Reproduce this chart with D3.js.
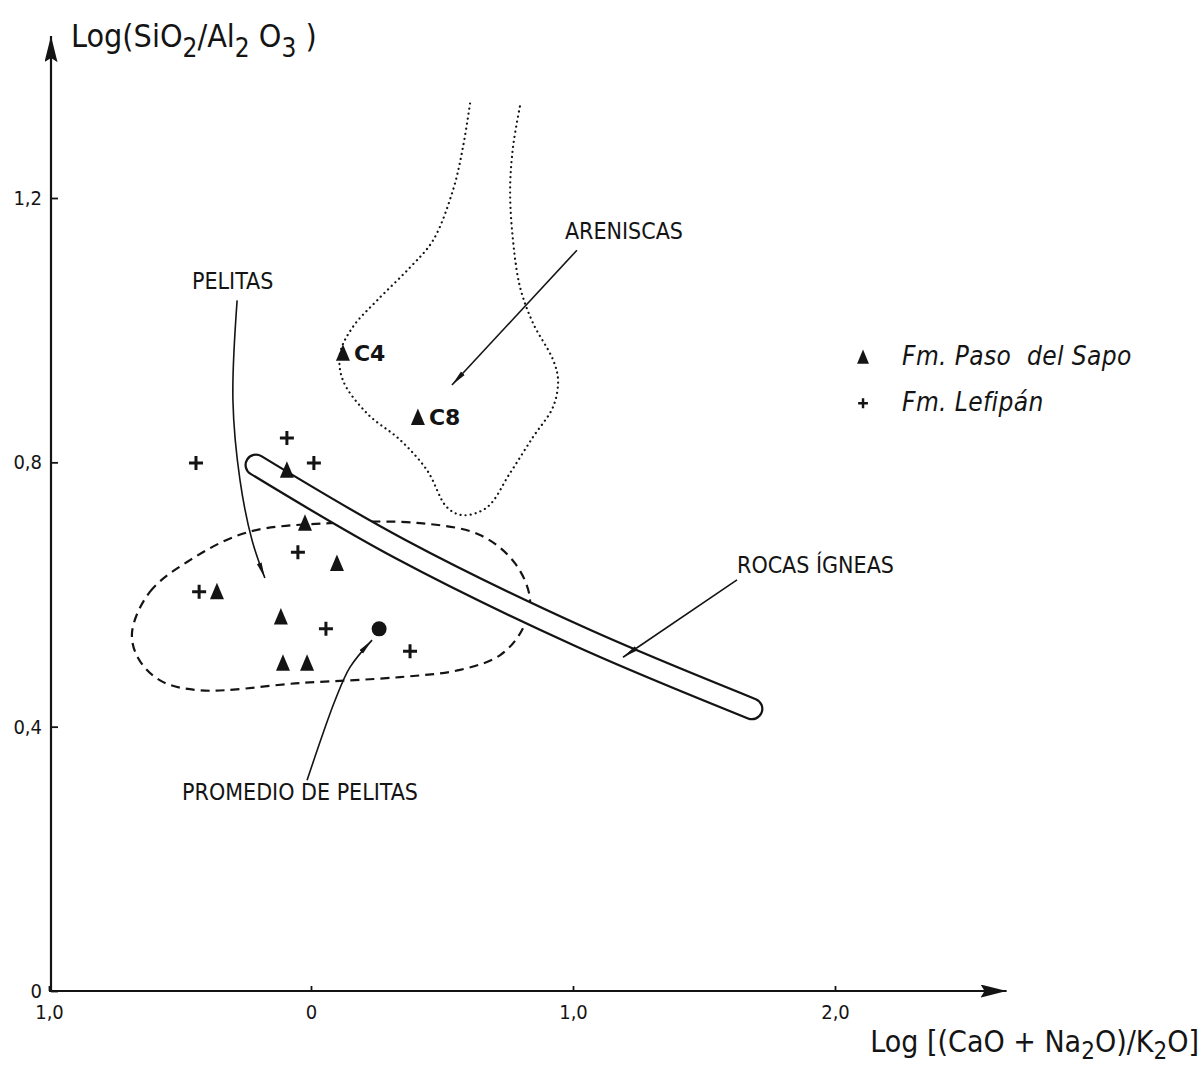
<!DOCTYPE html>
<html>
<head>
<meta charset="utf-8">
<script src="https://cdn.jsdelivr.net/npm/d3@7.9.0/dist/d3.min.js"></script>
<style>
  body { margin: 0; background: #fff; }
  svg { display: block; font-family: "DejaVu Sans Condensed", "DejaVu Sans", sans-serif; }
</style>
</head>
<body>
<svg id="chart" width="1203" height="1066"></svg>
<script>
// Axis ticks
const xTicks = [-1, 0, 1, 2];
const xTickLabels = ["1,0", "0", "1,0", "2,0"];
const yTicks = [0, 0.4, 0.8, 1.2];
const yTickLabels = ["0", "0,4", "0,8", "1,2"];
const xAxisEnd = 2.655;
const yAxisTop = 1.445;

// Fm. Paso del Sapo (triangles)
const pasoX = [0.122, 0.408, -0.092, -0.023, 0.099, -0.359, -0.115, -0.107, -0.015];
const pasoY = [0.965, 0.868, 0.788, 0.708, 0.647, 0.604, 0.566, 0.496, 0.496];
const pasoNames = ["C4", "C8", "", "", "", "", "", "", ""];

// Fm. Lefipán (crosses)
const lefX = [-0.092, -0.439, 0.011, -0.050, -0.427, 0.057, 0.378];
const lefY = [0.837, 0.799, 0.799, 0.664, 0.604, 0.548, 0.514];

// Promedio de pelitas
const promX = [0.260];
const promY = [0.548];

// Field outlines
const areniscasX = [0.607, 0.580, 0.542, 0.466, 0.378, 0.252, 0.160, 0.111, 0.122, 0.214, 0.340, 0.443, 0.519, 0.580,
  0.672, 0.760, 0.847, 0.924, 0.943, 0.924, 0.847, 0.798, 0.771, 0.760, 0.771, 0.798];
const areniscasY = [1.343, 1.277, 1.212, 1.136, 1.095, 1.045, 1.005, 0.965, 0.924, 0.874, 0.834, 0.788, 0.732, 0.720,
  0.732, 0.784, 0.838, 0.884, 0.924, 0.955, 1.011, 1.065, 1.136, 1.212, 1.277, 1.340];

const pelitasX = [-0.683, -0.615, -0.462, -0.244, 0.073, 0.416, 0.645, 0.779, 0.836, 0.805, 0.721, 0.569, 0.340, -0.042, -0.424, -0.576, -0.660];
const pelitasY = [0.543, 0.604, 0.652, 0.694, 0.708, 0.708, 0.690, 0.647, 0.592, 0.546, 0.508, 0.486, 0.475, 0.466, 0.455, 0.470, 0.504];

const igneasX = [-0.210, 0.340, 1.027, 1.683];
const igneasY = [0.796, 0.669, 0.536, 0.427];

// Annotation arrows
const arrowPelitas = { x: [-0.282, -0.298, -0.271, -0.225, -0.176], y: [1.045, 0.894, 0.773, 0.682, 0.625] };
const arrowArenis = { x: [1.015, 0.538], y: [1.121, 0.917] };
const arrowRocas = { x: [1.626, 1.191], y: [0.622, 0.505] };
const arrowProm = { x: [-0.015, 0.046, 0.092, 0.149, 0.233], y: [0.319, 0.390, 0.440, 0.490, 0.531] };

// Field labels
const fieldLabels = ["ARENISCAS", "PELITAS", "ROCAS ÍGNEAS", "PROMEDIO DE PELITAS"];
const fieldLabelX = [0.969, -0.454, 1.626, -0.492];
const fieldLabelY = [1.138, 1.062, 0.632, 0.289];

const legendNames = ["Fm. Paso del Sapo", "Fm. Lefipán"];

const svg = d3.select("#chart");
const ink = "#141414";

const x = d3.scaleLinear().domain([-1, 2]).range([49, 835]);
const y = d3.scaleLinear().domain([0, 1.2]).range([991, 198]);

const zip = (xs, ys) => xs.map((v, i) => [v, ys[i]]);

// arrow heads
const defs = svg.append("defs");
defs.append("marker")
  .attr("id", "head")
  .attr("viewBox", "0 0 16 6")
  .attr("refX", 16).attr("refY", 3)
  .attr("markerWidth", 16).attr("markerHeight", 6)
  .attr("markerUnits", "userSpaceOnUse")
  .attr("orient", "auto")
  .append("path").attr("d", "M0,0.5 L16,3 L0,5.5 Z").attr("fill", ink);

const line = d3.line().x(d => x(d[0])).y(d => y(d[1]));

// Areniscas field (dotted, open at top)
svg.append("path")
  .attr("d", line.curve(d3.curveCatmullRom)(zip(areniscasX, areniscasY)))
  .attr("fill", "none")
  .attr("stroke", ink)
  .attr("stroke-width", 2.2)
  .attr("stroke-linecap", "round")
  .attr("stroke-dasharray", "0.1,5");

// Pelitas field (dashed, closed)
svg.append("path")
  .attr("d", line.curve(d3.curveCatmullRomClosed)(zip(pelitasX, pelitasY)))
  .attr("fill", "none")
  .attr("stroke", ink)
  .attr("stroke-width", 2.2)
  .attr("stroke-dasharray", "9,6");

// Rocas ígneas field (elongated capsule)
const igneasPath = line.curve(d3.curveCatmullRom)(zip(igneasX, igneasY));
svg.append("path")
  .attr("d", igneasPath)
  .attr("fill", "none")
  .attr("stroke", ink)
  .attr("stroke-width", 23)
  .attr("stroke-linecap", "round");
svg.append("path")
  .attr("d", igneasPath)
  .attr("fill", "none")
  .attr("stroke", "#fff")
  .attr("stroke-width", 18.5)
  .attr("stroke-linecap", "round");

// Annotation arrows
[arrowPelitas, arrowArenis, arrowRocas, arrowProm].forEach(a => {
  svg.append("path")
    .attr("d", line.curve(d3.curveCatmullRom)(zip(a.x, a.y)))
    .attr("fill", "none")
    .attr("stroke", ink)
    .attr("stroke-width", 1.6)
    .attr("marker-end", "url(#head)");
});

// Field labels
svg.selectAll("text.field")
  .data(fieldLabels)
  .join("text")
  .attr("class", "field")
  .attr("x", (d, i) => x(fieldLabelX[i]))
  .attr("y", (d, i) => y(fieldLabelY[i]))
  .attr("font-size", 23)
  .attr("fill", ink)
  .text(d => d);

// Axes
const xAxis = d3.axisBottom(x)
  .tickValues(xTicks)
  .tickFormat((d, i) => xTickLabels[i])
  .tickSize(-5)
  .tickPadding(11);
const gx = svg.append("g").attr("transform", `translate(0,${y(0)})`).call(xAxis);

const yAxis = d3.axisLeft(y)
  .tickValues(yTicks)
  .tickFormat((d, i) => yTickLabels[i])
  .tickSize(-7)
  .tickPadding(9);
const gy = svg.append("g").attr("transform", `translate(${x(-1) + 2},0)`).call(yAxis);

[gx, gy].forEach(g => {
  g.select(".domain").remove();
  g.selectAll(".tick line").attr("stroke", ink).attr("stroke-width", 1.8);
  g.selectAll(".tick text")
    .attr("fill", ink)
    .attr("font-size", 20)
    .attr("font-family", "DejaVu Sans Condensed, DejaVu Sans, sans-serif");
});
gx.selectAll(".tick text").attr("dy", "0.85em");

// axis lines with arrowheads
defs.append("marker")
  .attr("id", "axisHead")
  .attr("viewBox", "0 0 26 13")
  .attr("refX", 26).attr("refY", 6.5)
  .attr("markerWidth", 26).attr("markerHeight", 13)
  .attr("markerUnits", "userSpaceOnUse")
  .attr("orient", "auto")
  .append("path").attr("d", "M0,0 L26,6.5 L0,13 L4,6.5 Z").attr("fill", ink);

svg.append("line")
  .attr("x1", x(-1)).attr("y1", y(0))
  .attr("x2", x(xAxisEnd)).attr("y2", y(0))
  .attr("stroke", ink).attr("stroke-width", 2.2)
  .attr("marker-end", "url(#axisHead)");
svg.append("line")
  .attr("x1", x(-1) + 2).attr("y1", y(0) + 1)
  .attr("x2", x(-1) + 2).attr("y2", y(yAxisTop))
  .attr("stroke", ink).attr("stroke-width", 2.2)
  .attr("marker-end", "url(#axisHead)");

// Axis titles
const yTitle = svg.append("text")
  .attr("x", x(-1) + 22).attr("y", y(yAxisTop) + 11)
  .attr("font-size", 32).attr("fill", ink);
yTitle.append("tspan").text("Log(SiO");
yTitle.append("tspan").attr("dy", 10).attr("font-size", 26).text("2");
yTitle.append("tspan").attr("dy", -10).text("/Al");
yTitle.append("tspan").attr("dy", 10).attr("font-size", 26).text("2");
yTitle.append("tspan").attr("dy", -10).text(" O");
yTitle.append("tspan").attr("dy", 10).attr("font-size", 26).text("3");
yTitle.append("tspan").attr("dy", -10).text(" )");

const xTitle = svg.append("text")
  .attr("x", 1199).attr("y", y(0) + 61)
  .attr("text-anchor", "end")
  .attr("font-size", 30).attr("fill", ink);
xTitle.append("tspan").text("Log [(CaO + Na");
xTitle.append("tspan").attr("dy", 7).attr("font-size", 24).text("2");
xTitle.append("tspan").attr("dy", -7).text("O)/K");
xTitle.append("tspan").attr("dy", 7).attr("font-size", 24).text("2");
xTitle.append("tspan").attr("dy", -7).text("O]");

// Markers
const triangle = "M0,-9 L7,7.5 L-7,7.5 Z";
const plus = "M-7,0H7M0,-7V7";

svg.selectAll("path.lef")
  .data(zip(lefX, lefY))
  .join("path")
  .attr("class", "lef")
  .attr("d", plus)
  .attr("transform", d => `translate(${x(d[0])},${y(d[1])})`)
  .attr("fill", "none")
  .attr("stroke", ink)
  .attr("stroke-width", 3);

svg.selectAll("circle.prom")
  .data(zip(promX, promY))
  .join("circle")
  .attr("class", "prom")
  .attr("cx", d => x(d[0])).attr("cy", d => y(d[1]))
  .attr("r", 7.5)
  .attr("fill", ink);

svg.selectAll("path.paso")
  .data(zip(pasoX, pasoY))
  .join("path")
  .attr("class", "paso")
  .attr("d", triangle)
  .attr("transform", d => `translate(${x(d[0])},${y(d[1])})`)
  .attr("fill", ink);

svg.selectAll("text.sample")
  .data(zip(pasoX, pasoY).map((d, i) => ({ p: d, name: pasoNames[i] })).filter(d => d.name))
  .join("text")
  .attr("class", "sample")
  .attr("x", d => x(d.p[0]) + 11)
  .attr("y", d => y(d.p[1]) + 8)
  .attr("font-family", "DejaVu Sans, sans-serif")
  .attr("font-weight", "bold")
  .attr("font-size", 22)
  .attr("fill", ink)
  .text(d => d.name);

// Legend
const legend = svg.append("g").attr("transform", `translate(${x(2.107)},${y(0.959)})`);
legend.append("path").attr("d", triangle).attr("transform", "scale(0.85)").attr("fill", ink);
legend.append("path").attr("d", plus).attr("transform", "translate(0,46) scale(0.7)")
  .attr("fill", "none").attr("stroke", ink).attr("stroke-width", 3.5);
legend.selectAll("text")
  .data(legendNames)
  .join("text")
  .attr("x", 39)
  .attr("y", (d, i) => 8 + i * 46)
  .attr("font-size", 26)
  .attr("font-style", "italic")
  .attr("letter-spacing", 0.4)
  .attr("fill", ink)
  .attr("xml:space", "preserve")
  .text(d => d.replace("Paso del", "Paso  del"));
</script>
</body>
</html>
